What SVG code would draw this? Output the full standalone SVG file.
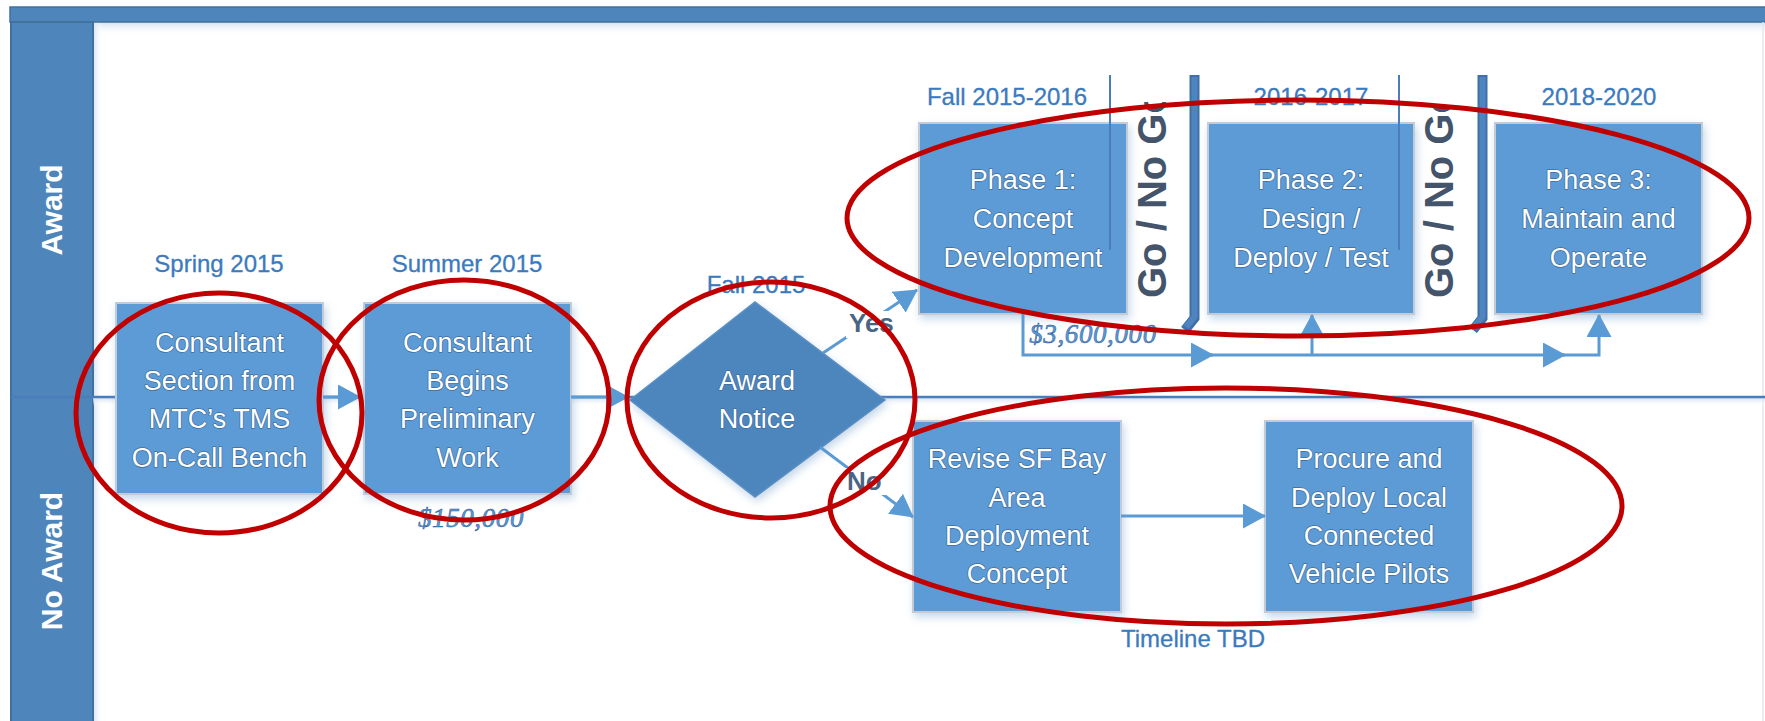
<svg xmlns="http://www.w3.org/2000/svg" width="1765" height="721" viewBox="0 0 1765 721">
<defs>
<style>
.hdr{fill:#4e86bb;stroke:#41719c;stroke-width:2}
.lanetxt{font-family:'Liberation Sans',Arial,sans-serif;font-weight:bold;font-size:30px;fill:#ffffff;text-anchor:middle}
.box{fill:#5b9bd5;stroke:#c3cbd6;stroke-width:2;filter:url(#sh)}
.dia{fill:#4d86bd;stroke:#5a8fc5;stroke-width:1.5;filter:url(#sh)}
.bt{font-family:'Liberation Sans',Arial,sans-serif;font-size:27px;fill:#ffffff;text-anchor:middle;stroke:#3f6d9c;stroke-width:1.4;paint-order:stroke;stroke-linejoin:round}
.hd{font-family:'Liberation Sans',Arial,sans-serif;font-size:24px;fill:#3c7abe;stroke:#3c7abe;stroke-width:0.3;text-anchor:middle}
.cost{font-family:'Liberation Serif','Times New Roman',serif;font-style:italic;font-size:27px;fill:#5b9bd5;stroke:#2f5597;stroke-width:0.5;text-anchor:middle;letter-spacing:0.6px}
.go{font-family:'Liberation Sans',Arial,sans-serif;font-weight:bold;font-size:40px;fill:#44546a}
.lbl{font-family:'Liberation Sans',Arial,sans-serif;font-weight:bold;font-size:26px;fill:#4a6583}
.conn{fill:none;stroke:#5b9bd5;stroke-width:3}
.ring{fill:none;stroke:#c00000;stroke-width:5}
.thin{stroke:#4a7ebb;stroke-width:2}
.bar{fill:none;stroke:#3f70a8;stroke-width:10;stroke-linejoin:miter}
.barin{fill:none;stroke:#4f84c0;stroke-width:6}
</style>
<filter id="sh" x="-10%" y="-10%" width="125%" height="130%">
<feDropShadow dx="2" dy="4" stdDeviation="4" flood-color="#7fa6cf" flood-opacity="0.45"/>
</filter>
<linearGradient id="gt" x1="0" y1="0" x2="0" y2="1">
<stop offset="0" stop-color="#d3e1f1"/><stop offset="1" stop-color="#ffffff" stop-opacity="0"/>
</linearGradient>
<linearGradient id="gl" x1="0" y1="0" x2="1" y2="0">
<stop offset="0" stop-color="#d3e1f1"/><stop offset="1" stop-color="#ffffff" stop-opacity="0"/>
</linearGradient>
<marker id="ah" viewBox="0 0 23 25" refX="22" refY="12.5" markerWidth="23" markerHeight="25" markerUnits="userSpaceOnUse" orient="auto">
<path d="M0,0 L23,12.5 L0,25 Z" fill="#5b9bd5"/>
</marker>
<clipPath id="cg1"><rect x="1125" y="102" width="60" height="210"/></clipPath>
<clipPath id="cg2"><rect x="1412" y="106" width="60" height="206"/></clipPath>
</defs>

<!-- pool background -->
<g id="pool">
<rect x="93" y="22" width="1672" height="699" fill="#ffffff"/>
<rect x="93" y="22" width="1672" height="14" fill="url(#gt)"/>
<rect x="93" y="22" width="10" height="699" fill="url(#gl)"/>
<rect x="10" y="7" width="1760" height="15" fill="#4e86bb" stroke="#41719c" stroke-width="1.5"/>
<line x1="1763" y1="22" x2="1763" y2="721" stroke="#e3e8ef" stroke-width="1.5"/>
</g>

<g id="lane-award">
<rect class="hdr" x="11" y="22" width="82" height="375"/>
<text class="lanetxt" transform="translate(62,210) rotate(-90)">Award</text>
</g>
<g id="lane-noaward">
<rect class="hdr" x="11" y="397" width="82" height="330"/>
<text class="lanetxt" transform="translate(62,561) rotate(-90)">No Award</text>
</g>

<g id="divider">
<rect x="93" y="398" width="1672" height="8" fill="url(#gt)"/>
<line x1="11" y1="397" x2="1765" y2="397" stroke="#4a7ebb" stroke-width="2.5"/>
</g>

<!-- headers -->
<g id="labels">
<text class="hd" x="219" y="272">Spring 2015</text>
<text class="hd" x="467" y="272">Summer 2015</text>
<text class="hd" x="756" y="293">Fall 2015</text>
<text class="hd" x="1007" y="105">Fall 2015-2016</text>
<text class="hd" x="1311" y="105">2016-2017</text>
<text class="hd" x="1599" y="105">2018-2020</text>
<text class="hd" x="1193" y="647">Timeline TBD</text>
<text class="cost" x="471" y="527">$150,000</text>
<text class="cost" x="1093" y="343">$3,600,000</text>
</g>

<g id="n-consultant-select">
<rect class="box" x="116" y="303" width="207" height="191"/>
<text class="bt" x="219.5" y="352">Consultant</text>
<text class="bt" x="219.5" y="390">Section from</text>
<text class="bt" x="219.5" y="428">MTC’s TMS</text>
<text class="bt" x="219.5" y="467">On-Call Bench</text>
</g>
<g id="n-consultant-begins">
<rect class="box" x="364" y="303" width="207" height="191"/>
<text class="bt" x="467.5" y="352">Consultant</text>
<text class="bt" x="467.5" y="390">Begins</text>
<text class="bt" x="467.5" y="428">Preliminary</text>
<text class="bt" x="467.5" y="467">Work</text>
</g>
<g id="n-award-notice">
<polygon class="dia" points="630,400 755,302 885,400 755,497"/>
<text class="bt" x="757" y="390">Award</text>
<text class="bt" x="757" y="428">Notice</text>
</g>
<g id="n-phase1">
<rect class="box" x="919" y="123" width="208" height="191"/>
<text class="bt" x="1023" y="189">Phase 1:</text>
<text class="bt" x="1023" y="228">Concept</text>
<text class="bt" x="1023" y="267">Development</text>
</g>
<g id="n-phase2">
<rect class="box" x="1208" y="123" width="206" height="191"/>
<text class="bt" x="1311" y="189">Phase 2:</text>
<text class="bt" x="1311" y="228">Design /</text>
<text class="bt" x="1311" y="267">Deploy / Test</text>
</g>
<g id="n-phase3">
<rect class="box" x="1495" y="123" width="207" height="191"/>
<text class="bt" x="1598.5" y="189">Phase 3:</text>
<text class="bt" x="1598.5" y="228">Maintain and</text>
<text class="bt" x="1598.5" y="267">Operate</text>
</g>
<g id="n-revise">
<rect class="box" x="913" y="421" width="208" height="191"/>
<text class="bt" x="1017" y="468">Revise SF Bay</text>
<text class="bt" x="1017" y="507">Area</text>
<text class="bt" x="1017" y="545">Deployment</text>
<text class="bt" x="1017" y="583">Concept</text>
</g>
<g id="n-procure">
<rect class="box" x="1265" y="421" width="208" height="191"/>
<text class="bt" x="1369" y="468">Procure and</text>
<text class="bt" x="1369" y="507">Deploy Local</text>
<text class="bt" x="1369" y="545">Connected</text>
<text class="bt" x="1369" y="583">Vehicle Pilots</text>
</g>

<!-- gates -->
<g id="gate1">
<line class="thin" x1="1110" y1="75" x2="1110" y2="250"/>
<path class="bar" d="M1194.5,75 V318 L1185,330"/>
<path class="barin" d="M1194.5,77 V317 L1186,327"/>
<g clip-path="url(#cg1)"><text class="go" transform="translate(1166,298) rotate(-90)">Go / No Go</text></g>
</g>
<g id="gate2">
<line class="thin" x1="1399" y1="75" x2="1399" y2="250"/>
<path class="bar" d="M1482.5,75 V318 L1473,330"/>
<path class="barin" d="M1482.5,77 V317 L1474,327"/>
<g clip-path="url(#cg2)"><text class="go" transform="translate(1453,298) rotate(-90)">Go / No Go</text></g>
</g>

<g id="connectors">
<path class="conn" d="M323,397 H360" marker-end="url(#ah)"/>
<path class="conn" d="M571,397 H628" marker-end="url(#ah)"/>
<path class="conn" d="M823,353 L917,290" marker-end="url(#ah)"/>
<path class="conn" d="M820,447 L913,517" marker-end="url(#ah)"/>
<path class="conn" d="M1121,516 H1265" marker-end="url(#ah)"/>
<path class="conn" d="M1023,314 V355 H1213" marker-end="url(#ah)"/>
<path class="conn" d="M1210,355 H1565" marker-end="url(#ah)"/>
<path class="conn" d="M1562,355 H1599 V315" marker-end="url(#ah)"/>
<path class="conn" d="M1312,356 V315" marker-end="url(#ah)"/>
<rect x="846" y="311" width="50" height="27" fill="#ffffff"/>
<text class="lbl" x="849" y="332">Yes</text>
<rect x="845" y="468" width="44" height="27" fill="#ffffff"/>
<text class="lbl" x="847" y="490">No</text>
</g>

<g id="highlights">
<ellipse class="ring" cx="219" cy="413" rx="143" ry="120"/>
<ellipse class="ring" cx="464" cy="400" rx="145" ry="120"/>
<ellipse class="ring" cx="771" cy="400" rx="144" ry="118"/>
<ellipse class="ring" cx="1298" cy="218" rx="451" ry="118"/>
<ellipse class="ring" cx="1226" cy="506" rx="396" ry="118"/>
</g>
</svg>
